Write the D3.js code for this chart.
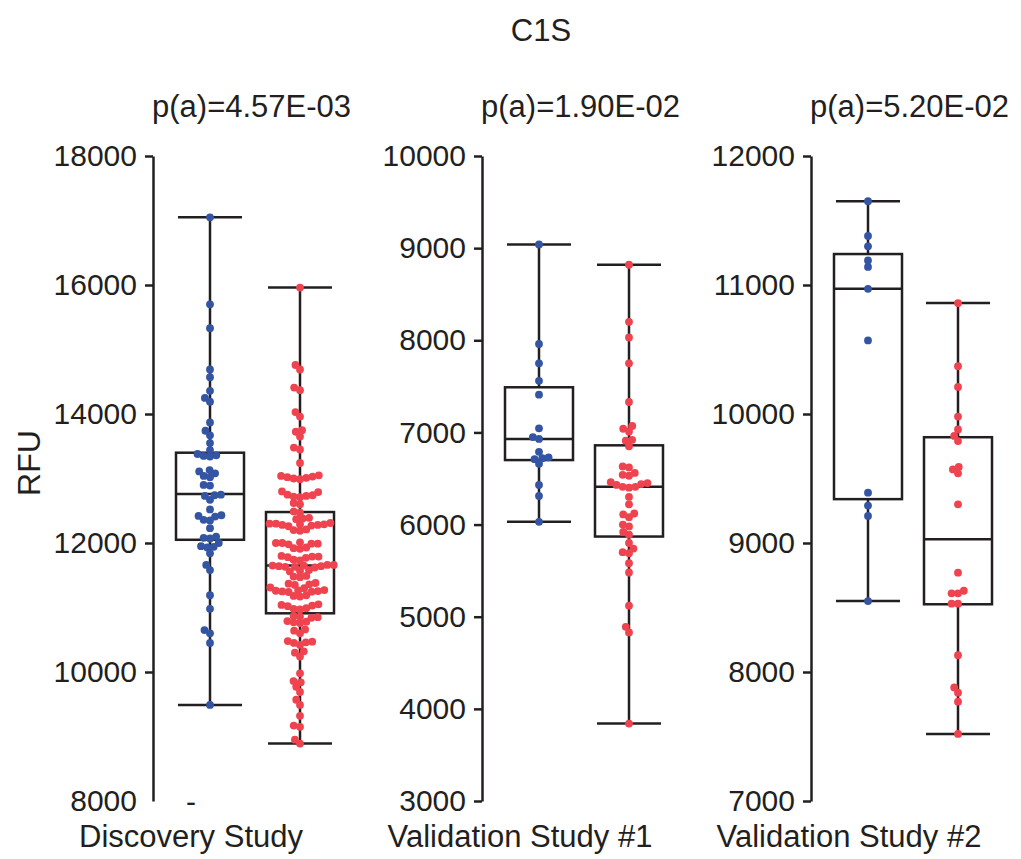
<!DOCTYPE html>
<html>
<head>
<meta charset="utf-8">
<script src="https://cdn.jsdelivr.net/npm/d3@7"></script>
<style>
  body { margin: 0; background: #fff; }
  text { font-family: "Liberation Sans", Arial, Helvetica, sans-serif; fill: #231f20; }
</style>
</head>
<body>
<div id="main_plot"></div>
<script>
// panel titles / labels
let studyNames = ["Discovery Study", "Validation Study #1", "Validation Study #2"];
let pLabels = ["p(a)=4.57E-03", "p(a)=1.90E-02", "p(a)=5.20E-02"];
let yDomains = [[8000, 18000], [3000, 10000], [7000, 12000]];
let yTicks = [
  [8000, 10000, 12000, 14000, 16000, 18000],
  [3000, 4000, 5000, 6000, 7000, 8000, 9000, 10000],
  [7000, 8000, 9000, 10000, 11000, 12000]
];
let groups = ["blue", "red"];

// RFU values
let discoveryBlue = [17050, 15700, 15330, 14690, 14570, 14360, 14250, 14190, 13870, 13740, 13670, 13550,
  13440, 13380, 13360, 13350, 13340, 13130, 13110, 13080, 13040, 13020, 12900, 12890, 12750, 12740,
  12730, 12670, 12520, 12430, 12420, 12410, 12360, 12350, 12230, 12100, 12080, 12070, 12000, 11950,
  11940, 11930, 11840, 11660, 11580, 11190, 10980, 10650, 10600, 10450, 9490];
let discoveryRed = [15960, 14760, 14690, 14410, 14370, 14030, 13960, 13750, 13725, 13650, 13480, 13450,
  13240, 13050, 13040, 13030, 13020, 13010, 13000, 12990, 12800, 12790, 12750, 12740, 12730, 12720,
  12710, 12620, 12600, 12490, 12470, 12390, 12380, 12370, 12310, 12300, 12300, 12290, 12290, 12280,
  12280, 12270, 12260, 12210, 12200, 12190, 12010, 12000, 12000, 11990, 11990, 11980, 11930, 11920,
  11910, 11800, 11790, 11790, 11780, 11770, 11740, 11730, 11660, 11660, 11650, 11650, 11640, 11640,
  11630, 11630, 11620, 11580, 11570, 11560, 11490, 11480, 11470, 11380, 11370, 11360, 11350, 11310,
  11300, 11270, 11265, 11260, 11255, 11250, 11245, 11240, 11190, 11180, 11170, 11050, 11040, 11030,
  11020, 10990, 10980, 10970, 10870, 10860, 10850, 10840, 10790, 10780, 10770, 10760, 10660, 10640,
  10600, 10480, 10470, 10460, 10450, 10420, 10320, 10300, 10240, 9980, 9860, 9840, 9770, 9690, 9570,
  9490, 9320, 9170, 9150, 8950, 8890];
let val1Blue = [9040, 7960, 7750, 7560, 7410, 7045, 6950, 6930, 6790, 6730, 6720, 6710, 6660, 6430, 6310, 6030];
let val1Red = [8820, 8200, 8030, 7750, 7330, 7070, 7040, 7010, 6920, 6910, 6850, 6630, 6620, 6560, 6540,
  6530, 6460, 6450, 6440, 6430, 6410, 6410, 6400, 6300, 6220, 6120, 6110, 6080, 6000, 5980, 5920, 5890,
  5800, 5740, 5700, 5690, 5580, 5480, 5120, 4890, 4830, 3840];
let val2Blue = [11650, 11380, 11300, 11190, 11140, 10970, 10570, 9390, 9290, 9210, 8550];
let val2Red = [10860, 10370, 10210, 9980, 9880, 9830, 9790, 9590, 9570, 9540, 9300, 8770, 8630, 8610,
  8610, 8530, 8530, 8130, 7880, 7840, 7770, 7520];

// box stats: [low whisker, q1, median, q3, high whisker]
let discoveryBox = [[9490, 12050, 12760, 13400, 17050], [8890, 10910, 11650, 12480, 15960]];
let val1Box = [[6030, 6700, 6930, 7490, 9040], [3840, 5870, 6410, 6860, 8820]];
let val2Box = [[8550, 9340, 10970, 11240, 11650], [7520, 8525, 9030, 9820, 10860]];

let color = d3.scaleOrdinal().domain(groups).range(["#3454a4", "#ef4450"]);

let width = 1021, height = 859;
let top_ = 156, bottom = 801;
let axisX = [153, 482, 811];
let boxW = 68, capW = 64, r = 3.9, gap = 6.4;
let ink = "#231f20";

// simple beeswarm: place each point as close to the centre as it can go
function swarm(ys) {
  let order = ys.map((y, i) => i).sort((a, b) => ys[b] - ys[a]);
  let placed = [];
  let out = new Array(ys.length);
  order.forEach(function(i) {
    let y = ys[i];
    let near = placed.filter(p => Math.abs(p.y - y) < gap);
    let cands = [0];
    near.forEach(function(p) {
      let dx = Math.sqrt(gap * gap - (p.y - y) * (p.y - y));
      cands.push(p.x + dx, p.x - dx);
    });
    cands.sort((a, b) => Math.abs(a) - Math.abs(b) || a - b);
    let x = cands.find(c => near.every(p => (p.x - c) ** 2 + (p.y - y) ** 2 >= gap * gap - 0.01));
    placed.push({ x: x, y: y });
    out[i] = x;
  });
  return out;
}

function makePlot() {
  let svg = d3.select("#main_plot").append("svg")
    .attr("width", width)
    .attr("height", height);

  svg.append("text")
    .attr("x", 541)
    .attr("y", 41)
    .attr("text-anchor", "middle")
    .style("font-size", "31px")
    .text("C1S");

  svg.append("text")
    .attr("transform", "translate(40,463) rotate(-90)")
    .attr("text-anchor", "middle")
    .style("font-size", "32px")
    .text("RFU");

  let panelData = [
    [discoveryBlue, discoveryRed],
    [val1Blue, val1Red],
    [val2Blue, val2Red]
  ];
  let panelBox = [discoveryBox, val1Box, val2Box];

  panelData.forEach(function(series, pi) {
    let x0 = axisX[pi];
    let y = d3.scaleLinear().domain(yDomains[pi]).range([bottom, top_]);
    let x = d3.scalePoint().domain(groups).range([x0 + 57, x0 + 147]);

    let g = svg.append("g");

    let yAxis = d3.axisLeft(y)
      .tickValues(yTicks[pi])
      .tickSize(8)
      .tickPadding(8)
      .tickSizeOuter(0)
      .tickFormat(d3.format("d"));

    let ax = g.append("g")
      .attr("transform", "translate(" + x0 + ",0)")
      .call(yAxis);
    ax.select(".domain").attr("stroke", ink).attr("stroke-width", 2.5);
    ax.selectAll(".tick line").attr("stroke", ink).attr("stroke-width", 2.5);
    ax.selectAll(".tick text")
      .attr("fill", ink)
      .style("font-size", "30px")
      .style("font-family", "'Liberation Sans', Arial, sans-serif");
    if (pi == 0) {
      // bottom tick of the first panel is missing in the original
      ax.selectAll(".tick").filter(d => d == 8000).select("line").remove();
    }

    g.append("text")
      .attr("x", x0 - 1)
      .attr("y", 117)
      .style("font-size", "31px")
      .text(pLabels[pi]);

    g.append("text")
      .attr("x", x0 + 38)
      .attr("y", 847)
      .attr("text-anchor", "middle")
      .style("font-size", "31px")
      .text(studyNames[pi]);

    // boxes + whiskers
    groups.forEach(function(grp, gi) {
      let b = panelBox[pi][gi];
      let cx = x(grp);
      let bg = g.append("g")
        .attr("stroke", ink)
        .attr("stroke-width", 2.5)
        .attr("fill", "none");
      bg.append("line")
        .attr("x1", cx).attr("x2", cx)
        .attr("y1", y(b[0])).attr("y2", y(b[1]));
      bg.append("line")
        .attr("x1", cx).attr("x2", cx)
        .attr("y1", y(b[3])).attr("y2", y(b[4]));
      bg.append("line")
        .attr("x1", cx - capW / 2).attr("x2", cx + capW / 2)
        .attr("y1", y(b[0])).attr("y2", y(b[0]));
      bg.append("line")
        .attr("x1", cx - capW / 2).attr("x2", cx + capW / 2)
        .attr("y1", y(b[4])).attr("y2", y(b[4]));
      bg.append("rect")
        .attr("x", cx - boxW / 2)
        .attr("y", y(b[3]))
        .attr("width", boxW)
        .attr("height", y(b[1]) - y(b[3]));
      bg.append("line")
        .attr("x1", cx - boxW / 2).attr("x2", cx + boxW / 2)
        .attr("y1", y(b[2])).attr("y2", y(b[2]));
    });

    // points
    groups.forEach(function(grp, gi) {
      let vals = series[gi];
      let ys = vals.map(v => y(v));
      let xs = swarm(ys);
      g.append("g")
        .selectAll(".dot")
        .data(vals)
        .enter()
        .append("circle")
        .attr("class", "dot")
        .attr("cx", (d, i) => x(grp) + xs[i])
        .attr("cy", d => y(d))
        .attr("r", r)
        .attr("fill", color(grp));
    });
  });

  // stray dash under the first panel
  svg.append("text")
    .attr("x", 191)
    .attr("y", 812)
    .attr("text-anchor", "middle")
    .style("font-size", "30px")
    .text("-");
}

makePlot();
</script>
</body>
</html>
